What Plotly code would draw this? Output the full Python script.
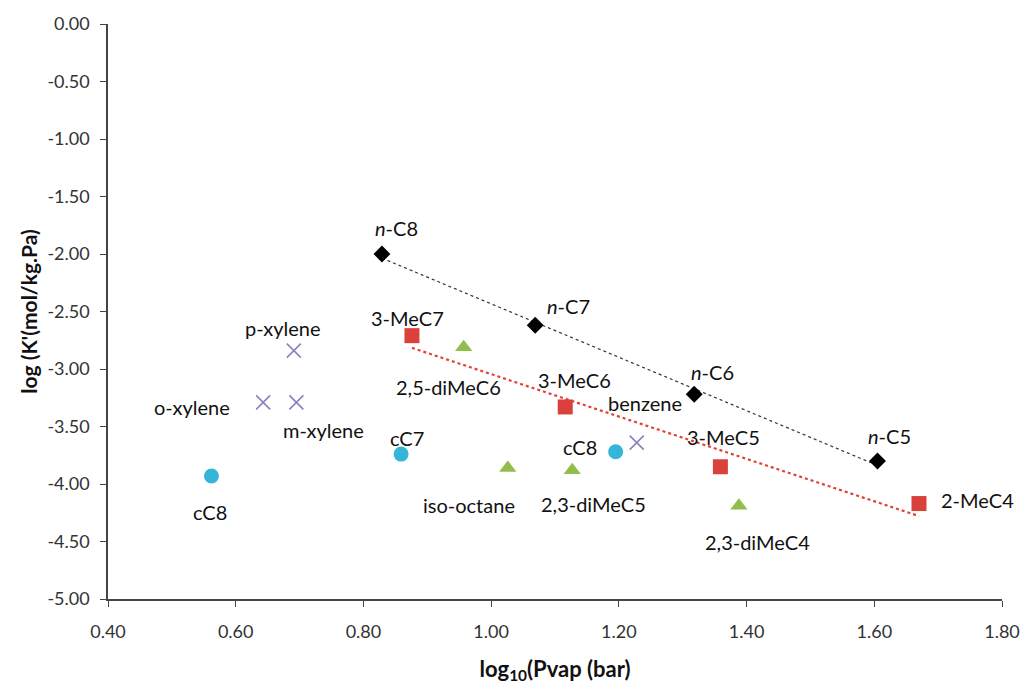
import numpy as np
import plotly.graph_objects as go

# log10 vapour pressure (x) and log K' (y) for each compound family
alkane_names = ["<i>n</i>-C8", "<i>n</i>-C7", "<i>n</i>-C6", "<i>n</i>-C5"]
alkane_x = [0.829, 1.069, 1.318, 1.605]
alkane_y = [-2.00, -2.62, -3.22, -3.80]

methyl_names = ["3-MeC7", "3-MeC6", "3-MeC5", "2-MeC4"]
methyl_x = [0.876, 1.116, 1.359, 1.670]
methyl_y = [-2.71, -3.33, -3.85, -4.17]

dimethyl_names = ["2,5-diMeC6", "iso-octane", "2,3-diMeC5", "2,3-diMeC4"]
dimethyl_x = [0.957, 1.026, 1.127, 1.388]
dimethyl_y = [-2.81, -3.86, -3.88, -4.19]

cyclic_names = ["cC8", "cC7", "cC8"]
cyclic_x = [0.562, 0.859, 1.195]
cyclic_y = [-3.93, -3.74, -3.72]

aromatic_names = ["p-xylene", "o-xylene", "m-xylene", "benzene"]
aromatic_x = [0.691, 0.643, 0.695, 1.228]
aromatic_y = [-2.84, -3.29, -3.29, -3.64]

x_ticks = [0.40, 0.60, 0.80, 1.00, 1.20, 1.40, 1.60, 1.80]
y_ticks = [0.00, -0.50, -1.00, -1.50, -2.00, -2.50, -3.00, -3.50, -4.00, -4.50, -5.00]

FONT = "Lato, 'Open Sans', sans-serif"

fig = go.Figure()


def trend(xs, ys, color, width, dash):
    slope, icpt = np.polyfit(xs, ys, 1)
    xe = np.array([min(xs), max(xs)])
    fig.add_trace(go.Scatter(x=xe, y=slope * xe + icpt, mode="lines",
                             line=dict(color=color, width=width, dash=dash),
                             hoverinfo="skip", showlegend=False))


trend(alkane_x, alkane_y, "#333333", 1.2, "dot")
trend(methyl_x, methyl_y, "#e0413a", 2.2, "dot")

fig.add_trace(go.Scatter(x=aromatic_x, y=aromatic_y, mode="markers",
                         marker=dict(symbol="x-thin", size=14,
                                     line=dict(color="#8f7fc0", width=1.6)),
                         showlegend=False))
fig.add_trace(go.Scatter(x=cyclic_x, y=cyclic_y, mode="markers",
                         marker=dict(symbol="circle", size=15, color="#35b6d8"),
                         showlegend=False))
fig.add_trace(go.Scatter(x=dimethyl_x, y=dimethyl_y, mode="markers",
                         marker=dict(symbol="triangle-up", size=15, color="#92bd4a"),
                         showlegend=False))
fig.add_trace(go.Scatter(x=methyl_x, y=methyl_y, mode="markers",
                         marker=dict(symbol="square", size=15, color="#d9413a"),
                         showlegend=False))
fig.add_trace(go.Scatter(x=alkane_x, y=alkane_y, mode="markers",
                         marker=dict(symbol="diamond", size=13, color="black"),
                         showlegend=False))

# label offsets (pixels, y up) relative to each point; optional x anchor
label_shift = {
    ("<i>n</i>-C8", 0): (15, 26), ("<i>n</i>-C7", 1): (33, 19),
    ("<i>n</i>-C6", 2): (18, 22), ("<i>n</i>-C5", 3): (12, 25),
    ("3-MeC7", 0): (-4, 18), ("3-MeC6", 1): (9, 27),
    ("3-MeC5", 2): (3, 30), ("2-MeC4", 3): (59, 4),
    ("2,5-diMeC6", 0): (-15, -40), ("iso-octane", 1): (-39, -37),
    ("2,3-diMeC5", 2): (21, -34), ("2,3-diMeC4", 3): (19, -36),
    ("cC8", 0): (-1, -36), ("cC7", 1): (6, 16), ("cC8", 2): (-36, 5),
    ("p-xylene", 0): (-11, 23), ("o-xylene", 1): (-31, -5, "right"),
    ("m-xylene", 2): (27, -28), ("benzene", 3): (8, 40),
}

groups = [(alkane_names, alkane_x, alkane_y), (methyl_names, methyl_x, methyl_y),
          (dimethyl_names, dimethyl_x, dimethyl_y), (cyclic_names, cyclic_x, cyclic_y),
          (aromatic_names, aromatic_x, aromatic_y)]
for names, xs, ys in groups:
    for i, (nm, xv, yv) in enumerate(zip(names, xs, ys)):
        spec = label_shift[(nm, i)]
        anchor = spec[2] if len(spec) > 2 else "center"
        fig.add_annotation(x=xv, y=yv, text=nm, showarrow=False,
                           xshift=spec[0], yshift=spec[1], xanchor=anchor,
                           font=dict(family=FONT, size=20, color="#111111"))

fig.update_layout(
    width=1032, height=690,
    margin=dict(l=108, r=22, t=22, b=90),
    paper_bgcolor="white", plot_bgcolor="white",
    font=dict(family=FONT, size=18, color="#222222"),
    xaxis=dict(range=[0.40, 1.80], tickvals=x_ticks,
               ticktext=[f"{v:.2f}" for v in x_ticks],
               showgrid=False, zeroline=False, showline=True,
               linecolor="#444444", linewidth=1.5, ticks="outside",
               ticklen=6, tickcolor="#444444", ticklabelstandoff=10,
               tickfont=dict(family=FONT, size=18, color="#333333"),
               title=dict(text="<b>log<sub>10</sub>(Pvap (bar)</b>", standoff=20,
                          font=dict(family=FONT, size=22, color="#111111"))),
    yaxis=dict(range=[-5.00, 0.00], tickvals=y_ticks,
               ticktext=[f"{v:.2f}".replace("-0.00", "0.00") for v in y_ticks],
               showgrid=False, zeroline=False, showline=True,
               linecolor="#444444", linewidth=1.5, ticks="outside",
               ticklen=6, tickcolor="#444444", ticklabelstandoff=7,
               tickfont=dict(family=FONT, size=18, color="#333333"),
               title=dict(text="<b>log (K'(mol/kg.Pa)</b>", standoff=4,
                          font=dict(family=FONT, size=21, color="#111111"))),
)

fig.write_html("out.html")
